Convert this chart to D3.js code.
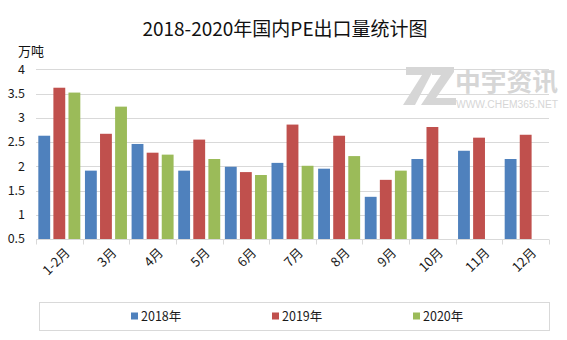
<!DOCTYPE html>
<html>
<head>
<meta charset="utf-8">
<script src="https://cdn.jsdelivr.net/npm/d3@7/dist/d3.min.js"></script>
<style>
  html, body { margin: 0; padding: 0; background: #fff; }
  svg { display: block; font-family: "Noto Sans CJK SC", "Noto Sans", sans-serif; }
</style>
</head>
<body>
<svg id="chart" width="567" height="340"></svg>
<script>
// PE export volume by month, 10k tonnes
const months = ["1-2月", "3月", "4月", "5月", "6月", "7月", "8月", "9月", "10月", "11月", "12月"];
const seriesNames = ["2018年", "2019年", "2020年"];
const values2018 = [2.63, 1.91, 2.46, 1.91, 1.99, 2.07, 1.95, 1.37, 2.15, 2.32, 2.15];
const values2019 = [3.62, 2.67, 2.28, 2.55, 1.88, 2.86, 2.63, 1.72, 2.81, 2.59, 2.65];
const values2020 = [3.52, 3.23, 2.24, 2.15, 1.82, 2.01, 2.21, 1.91, null, null, null];
const yTicks = [0.5, 1, 1.5, 2, 2.5, 3, 3.5, 4];
const colors = ["#4f81bd", "#c0504d", "#9bbb59"];

const svg = d3.select("#chart");
const plot = { left: 36, right: 549, top: 69.3, bottom: 239 };

const x = d3.scaleBand().domain(months).range([plot.left, plot.right]);
const y = d3.scaleLinear().domain([0.5, 4]).range([plot.bottom, plot.top]);
const inner = d3.scaleBand().domain(seriesNames).range([0, 42]).paddingInner(0.2143);

// title and unit
svg.append("text").attr("x", 285).attr("y", 36).attr("text-anchor", "middle")
  .attr("font-size", 19).attr("fill", "#111").text("2018-2020年国内PE出口量统计图");
svg.append("text").attr("x", 18).attr("y", 56).attr("font-size", 13).attr("fill", "#111").text("万吨");

// gridlines
svg.append("g").selectAll("line").data(yTicks.slice(1)).join("line")
  .attr("x1", plot.left).attr("x2", plot.right)
  .attr("y1", d => Math.round(y(d)) + 0.5).attr("y2", d => Math.round(y(d)) + 0.5)
  .attr("stroke", "#d9d9d9").attr("stroke-width", 1);

// watermark logo and site name
const wm = svg.append("g").attr("fill", "#d6d6d6");
wm.append("path").attr("d",
  // left bar with its slash
  "M406,67 L435,67 L415,105 L403,105 L422,75 L406,75 Z " +
  // Z: top bar, diagonal, bottom bar
  "M432,67 L454,67 L454,72 L436,98 L456,98 L456,105 L421,105 L441,75 L432,75 Z");
wm.append("text").attr("x", 455).attr("y", 91).attr("font-size", 25).attr("font-weight", "bold")
  .attr("textLength", 103).attr("lengthAdjust", "spacingAndGlyphs").text("中宇资讯");
wm.append("text").attr("x", 456).attr("y", 108).attr("font-size", 10)
  .attr("textLength", 102).attr("lengthAdjust", "spacingAndGlyphs").attr("font-family", "Liberation Sans, sans-serif")
  .text("WWW.CHEM365.NET");

// bars
const rows = months.map((m, i) => ({ month: m, vals: [values2018[i], values2019[i], values2020[i]] }));
const groups = svg.append("g").selectAll("g").data(rows).join("g")
  .attr("transform", d => `translate(${x(d.month) + (x.bandwidth() - 42) / 2},0)`);
groups.selectAll("rect")
  .data(d => d.vals.map((v, k) => ({ name: seriesNames[k], v, k })).filter(e => e.v != null))
  .join("rect")
  .attr("x", d => inner(d.name))
  .attr("width", inner.bandwidth())
  .attr("y", d => y(d.v))
  .attr("height", d => y(0.5) - y(d.v))
  .attr("fill", d => colors[d.k]);

// x axis
const xAxis = svg.append("g").attr("transform", `translate(0,${plot.bottom + 0.5})`);
xAxis.append("line").attr("x1", plot.left).attr("x2", plot.right).attr("stroke", "#d9d9d9");
const edges = months.map(m => x(m)).concat([plot.right]);
xAxis.selectAll("line.tick").data(edges).join("line").attr("class", "tick")
  .attr("x1", d => Math.round(d) + 0.5).attr("x2", d => Math.round(d) + 0.5)
  .attr("y1", 0).attr("y2", 5).attr("stroke", "#d9d9d9");
svg.append("g").selectAll("text").data(months).join("text")
  .attr("transform", d => `translate(${x(d) + x.bandwidth() / 2 + 5},${plot.bottom + 8}) rotate(-45)`)
  .attr("text-anchor", "end").attr("dy", "0.7em").attr("font-size", 13).attr("fill", "#1a1a1a")
  .text(d => d);

// y axis labels
svg.append("g").selectAll("text").data(yTicks).join("text")
  .attr("x", 25).attr("y", d => y(d)).attr("dy", "0.35em")
  .attr("text-anchor", "end").attr("font-size", 12.5).attr("fill", "#1a1a1a")
  .text(d => d);

// legend
svg.append("rect").attr("x", 39.5).attr("y", 302.5).attr("width", 510).attr("height", 28)
  .attr("fill", "none").attr("stroke", "#d9d9d9");
const legendX = [131, 272, 413];
const lg = svg.append("g").selectAll("g").data(seriesNames).join("g")
  .attr("transform", (d, i) => `translate(${legendX[i]},316)`);
lg.append("rect").attr("x", 0).attr("y", -3.5).attr("width", 7).attr("height", 7)
  .attr("fill", (d, i) => colors[i]);
lg.append("text").attr("x", 10).attr("dy", "0.36em").attr("font-size", 12.5).attr("fill", "#1a1a1a")
  .text(d => d);
</script>
</body>
</html>
